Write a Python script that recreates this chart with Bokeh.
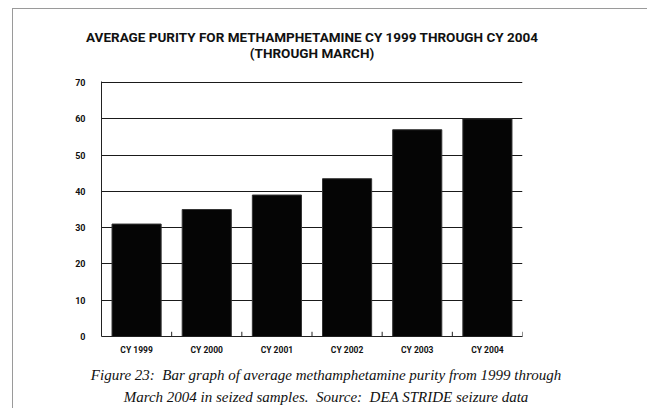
from bokeh.plotting import figure
from bokeh.models import Range1d, FixedTicker, ColumnDataSource, Div
from bokeh.layouts import column
from bokeh.embed import file_html
from bokeh.resources import INLINE

categories = ["CY 1999", "CY 2000", "CY 2001", "CY 2002", "CY 2003", "CY 2004"]
purity = [31, 35, 39, 43.5, 57, 60]
y_ticks = [0, 10, 20, 30, 40, 50, 60, 70]

title_line1 = "AVERAGE PURITY FOR METHAMPHETAMINE CY 1999 THROUGH CY 2004"
title_line2 = "(THROUGH MARCH)"
caption_line1 = "Figure 23:&nbsp; Bar graph of average methamphetamine purity from 1999 through"
caption_line2 = "March 2004 in seized samples.&nbsp; Source:&nbsp; DEA STRIDE seizure data"

SANS = "'Roboto', 'Liberation Sans', sans-serif"
SERIF = "'Liberation Serif', 'DejaVu Serif', serif"

W = 634
n = len(categories)
centers = [i + 0.5 for i in range(n)]
bounds = [i + 1 for i in range(n)]

title_div = Div(
    text=(f'<div style="width:{W}px; box-sizing:border-box; font-family:{SANS}; font-weight:bold; '
          f'font-size:13.5px; line-height:16px; text-align:center; padding-top:20px; '
          f'padding-right:36px; color:#111111;">'
          f'{title_line1}<br>{title_line2}</div>'),
    width=W, height=60, margin=(0, 0, 0, 0))

p = figure(width=W, height=293, output_backend="svg", toolbar_location=None,
           x_range=Range1d(0, n), y_range=Range1d(0, 70.3),
           min_border_left=88, min_border_right=125, min_border_top=12, min_border_bottom=26,
           margin=(0, 0, 0, 0))
p.outline_line_color = None
p.background_fill_color = "white"

src = ColumnDataSource(dict(x=centers, top=purity, cat=categories))
p.vbar(x="x", top="top", width=0.7, bottom=0, source=src,
       fill_color="#050505", line_color="#333333", line_width=1)

# small boundary ticks on the baseline between categories
p.segment(x0=bounds, y0=[0] * n, x1=bounds, y1=[1.3] * n, line_color="#222222", line_width=1)

p.xgrid.visible = False
p.ygrid.ticker = FixedTicker(ticks=y_ticks)
p.ygrid.grid_line_color = "#1a1a1a"
p.ygrid.grid_line_width = 1.2
p.ygrid.level = "underlay"

p.yaxis.ticker = FixedTicker(ticks=y_ticks)
p.yaxis.major_tick_line_color = None
p.yaxis.major_tick_out = 0
p.yaxis.major_tick_in = 0
p.yaxis.minor_tick_line_color = None
p.yaxis.axis_line_color = "#222222"
p.yaxis.major_label_text_font = SANS
p.yaxis.major_label_text_font_style = "bold"
p.yaxis.major_label_text_font_size = "9px"
p.yaxis.major_label_text_color = "#111111"
p.yaxis.major_label_standoff = 16

p.xaxis.ticker = FixedTicker(ticks=centers)
p.xaxis.major_label_overrides = {c: lab for c, lab in zip(centers, categories)}
p.xaxis.major_tick_line_color = None
p.xaxis.major_tick_out = 0
p.xaxis.major_tick_in = 0
p.xaxis.minor_tick_line_color = None
p.xaxis.axis_line_color = "#222222"
p.xaxis.major_label_text_font = SANS
p.xaxis.major_label_text_font_style = "bold"
p.xaxis.major_label_text_font_size = "8.5px"
p.xaxis.major_label_text_color = "#111111"
p.xaxis.major_label_standoff = 8

caption_div = Div(
    text=(f'<div style="width:{W}px; box-sizing:border-box; font-family:{SERIF}; font-style:italic; '
          f'font-size:15px; line-height:22px; text-align:center; padding-top:2px; '
          f'padding-right:8px; color:#111111;">'
          f'{caption_line1}<br>{caption_line2}</div>'),
    width=W, height=46, margin=(0, 0, 0, 0))

layout = column(title_div, p, caption_div, spacing=0, margin=(8, 0, 0, 12),
                styles={"border-top": "1px solid #9a9a9a", "border-left": "1px solid #9a9a9a"})

open("out.html", "w").write(file_html(layout, INLINE))
